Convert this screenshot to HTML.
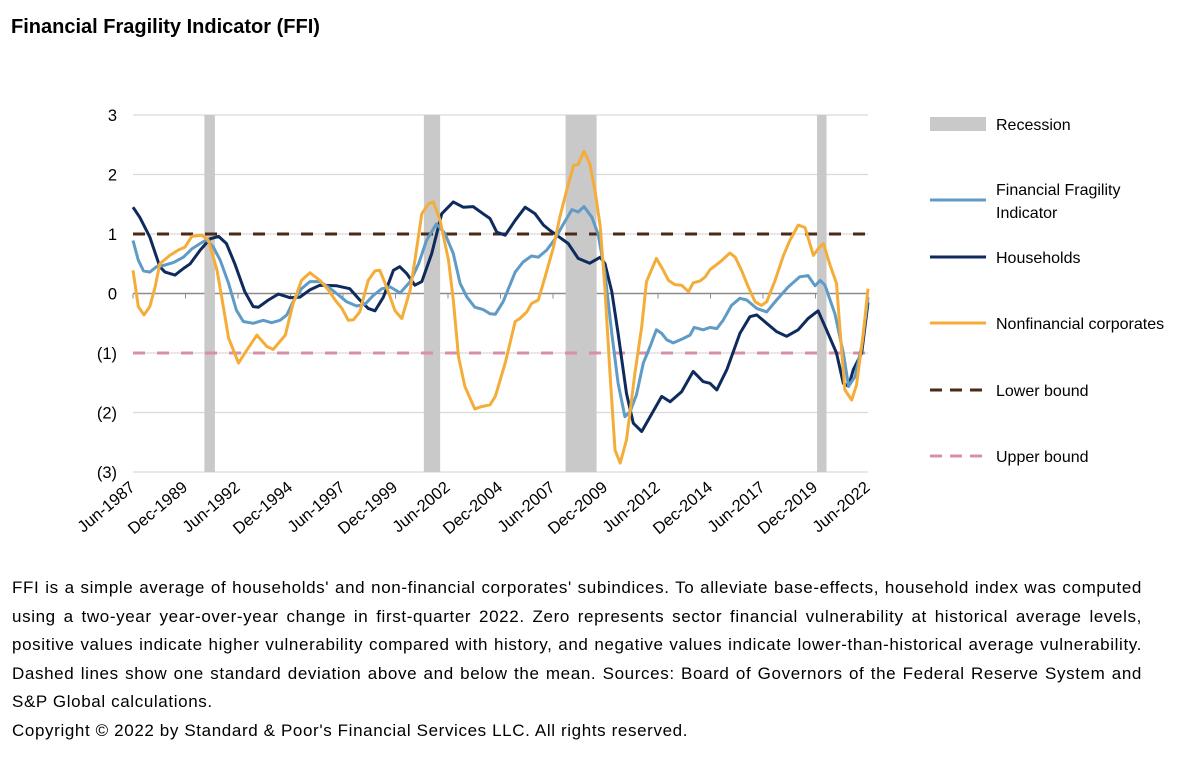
<!DOCTYPE html>
<html><head><meta charset="utf-8"><style>
body{margin:0;background:#fff;width:1202px;height:760px;overflow:hidden;font-family:"Liberation Sans",Arial,sans-serif;color:#000}
#title{position:absolute;left:11px;top:16px;font-size:20px;font-weight:bold}
#note{position:absolute;left:12px;top:574px;width:1130px;font-size:17px;line-height:28.5px;text-align:justify;letter-spacing:0.62px}
#copy{position:absolute;left:12px;top:717px;font-size:17px;line-height:28.5px;letter-spacing:0.62px}
svg{position:absolute;left:0;top:0}
</style></head><body>
<div id="title">Financial Fragility Indicator (FFI)</div>
<svg id="chart" width="1202" height="560"></svg>
<div id="note">FFI is a simple average of households' and non-financial corporates' subindices. To alleviate base-effects, household index was computed using a two-year year-over-year change in first-quarter 2022. Zero represents sector financial vulnerability at historical average levels, positive values indicate higher vulnerability compared with history, and negative values indicate lower-than-historical average vulnerability. Dashed lines show one standard deviation above and below the mean. Sources: Board of Governors of the Federal Reserve System and S&amp;P Global calculations.</div>
<div id="copy">Copyright © 2022 by Standard &amp; Poor's Financial Services LLC. All rights reserved.</div>
<script>
// quarters since Jun-1987
const hhQ=[0,1.3,3.2,5.1,6.1,8.0,9.6,10.9,12.8,14.7,16.3,17.8,19.4,21.3,22.9,23.9,25.8,27.7,29.9,31.8,33.7,35.6,38.8,41.3,43.2,44.8,46.1,47.7,49.6,50.8,52.1,53.7,55,56.9,58.8,61,62.9,64.8,66.7,68,69.3,70.9,72.8,74.7,76.6,78.2,79.4,80.7,82.9,84.8,87,89,89.9,91.2,92.4,94,95.3,96.9,98.5,100.7,102.3,104.5,106.7,108.6,109.9,111.2,113.1,115.6,117.5,118.8,120.7,122.6,124.5,126.7,128.6,130.5,132.1,134,135.3,136.3,137.2,138.8,140];
const hhV=[1.45,1.28,0.95,0.45,0.36,0.31,0.42,0.5,0.73,0.92,0.96,0.84,0.5,0.03,-0.22,-0.23,-0.11,-0.01,-0.07,-0.06,0.06,0.14,0.13,0.08,-0.11,-0.25,-0.29,-0.06,0.39,0.45,0.34,0.14,0.2,0.67,1.34,1.54,1.45,1.46,1.34,1.26,1.03,0.98,1.23,1.45,1.34,1.15,1.06,0.98,0.84,0.59,0.51,0.61,0.5,0.03,-0.67,-1.68,-2.18,-2.32,-2.07,-1.73,-1.82,-1.65,-1.31,-1.48,-1.51,-1.62,-1.28,-0.67,-0.39,-0.36,-0.5,-0.64,-0.72,-0.61,-0.42,-0.29,-0.61,-1.0,-1.51,-1.56,-1.28,-1.0,-0.15];
const ffiQ=[0,1,2,3.2,4.5,5.8,7.7,9.6,11.2,12.8,14,15.3,16.6,18.2,19.7,21,22.9,24.8,26.4,28,29.3,30.5,32.1,33.7,35.6,37.2,38.8,40.7,42.6,44.2,45.8,47.4,49,50.9,52.8,54.4,55.9,57.8,59.4,61,62.3,63.6,65.1,66.7,68,69,70.5,72.8,74.3,75.9,77.2,78.8,80.4,82,83.6,84.8,85.9,87.4,88.6,89.9,91.2,92.4,93.7,94.7,95.9,97.2,98.5,99.7,100.7,101.7,102.9,104.5,106.1,106.9,108.6,109.9,111.2,112.4,114,115.6,116.9,118.8,120.7,122.6,124.8,127,128.6,129.9,130.9,131.8,133.7,135.3,136.3,137.5,138.8,140];
const ffiV=[0.89,0.56,0.38,0.36,0.45,0.47,0.52,0.61,0.75,0.84,0.9,0.78,0.56,0.17,-0.28,-0.47,-0.5,-0.45,-0.49,-0.45,-0.36,-0.14,0.08,0.2,0.2,0.11,0,-0.14,-0.21,-0.18,-0.03,0.08,0.11,0.01,0.2,0.5,0.89,1.17,1.01,0.67,0.17,-0.06,-0.23,-0.27,-0.34,-0.35,-0.14,0.36,0.53,0.63,0.61,0.73,0.92,1.17,1.41,1.37,1.46,1.28,1.0,0.34,-0.67,-1.51,-2.07,-1.98,-1.7,-1.17,-0.89,-0.61,-0.67,-0.78,-0.83,-0.77,-0.7,-0.57,-0.61,-0.57,-0.59,-0.45,-0.2,-0.08,-0.11,-0.25,-0.31,-0.11,0.11,0.28,0.3,0.13,0.22,0.14,-0.34,-1.0,-1.56,-1.4,-0.89,-0.06];
const nfQ=[0,1,2.1,3.2,4.2,5.1,7,8.6,9.9,11.2,13.1,14.4,16,16.9,18.2,20.1,21.7,23.6,25.5,26.7,29,30.5,32.1,33.7,35.6,37.2,38.5,39.8,41,42,43.2,44.8,46.1,47,48.3,49.9,51.2,52.8,53.7,55,56.3,57.2,58.5,60.1,61,62,63.2,65.1,66.4,68,69,70.9,72.8,73.7,75,75.9,77.2,78.5,80.1,81.3,82.6,83.9,84.8,85.9,87,88,89,89.9,90.9,91.8,92.8,94,95.6,96.9,97.8,99.7,101,102,103.2,104.5,105.8,106.7,108,109,109.9,111.8,113.7,114.7,115.9,117.2,118.5,119.7,120.7,122.3,123.9,125.1,126.7,128,129.6,130.5,131.5,132.8,134,135,135.6,136.9,137.8,139.1,140];
const nfV=[0.39,-0.22,-0.36,-0.22,0.11,0.5,0.64,0.73,0.78,0.96,0.98,0.89,0.39,-0.06,-0.75,-1.17,-0.95,-0.7,-0.89,-0.94,-0.7,-0.17,0.22,0.35,0.22,0.06,-0.11,-0.25,-0.45,-0.44,-0.31,0.22,0.38,0.39,0.11,-0.29,-0.42,0.06,0.56,1.34,1.51,1.54,1.23,0.56,-0.11,-1.06,-1.56,-1.94,-1.9,-1.87,-1.73,-1.17,-0.47,-0.42,-0.31,-0.17,-0.11,0.28,0.78,1.28,1.73,2.15,2.17,2.39,2.18,1.73,1.12,0.06,-1.4,-2.63,-2.85,-2.46,-1.34,-0.56,0.2,0.59,0.39,0.22,0.15,0.14,0.03,0.18,0.21,0.28,0.4,0.53,0.68,0.61,0.39,0.11,-0.14,-0.2,-0.14,0.22,0.64,0.89,1.15,1.11,0.64,0.75,0.84,0.47,0.17,-1.0,-1.62,-1.79,-1.54,-0.67,0.08];
const recStart=[13.6,55.4,82.4,130.3];
const recEnd=[15.6,58.5,88.3,132.1];
const tickQ=[0,10,20,30,40,50,60,70,80,90,100,110,120,130,140];
const tickLabels=["Jun-1987","Dec-1989","Jun-1992","Dec-1994","Jun-1997","Dec-1999","Jun-2002","Dec-2004","Jun-2007","Dec-2009","Jun-2012","Dec-2014","Jun-2017","Dec-2019","Jun-2022"];
const yTicks=[3,2,1,0,-1,-2,-3];
const yLabels=["3","2","1","0","(1)","(2)","(3)"];
const lowerBound=1, upperBound=-1;

const X0=133,X1=868,Y3=115,Ym3=472;
const sx=q=>X0+(X1-X0)*q/140;
const sy=v=>Y3+(Ym3-Y3)*(3-v)/6;
const svg=document.getElementById('chart');
const NS='http://www.w3.org/2000/svg';
function mk(tag,attrs,parent){const e=document.createElementNS(NS,tag);for(const k in attrs)e.setAttribute(k,attrs[k]);(parent||svg).appendChild(e);return e;}

yTicks.forEach((v,i)=>{
  const g=mk('line',{x1:X0,x2:X1,y1:sy(v),y2:sy(v),stroke:v===0?'#8c8c8c':'#d9d9d9','stroke-width':v===0?1.5:1.3});
  
  
  const t=mk('text',{x:117,y:sy(v)+6,'text-anchor':'end','font-size':16.5});
  t.textContent=yLabels[i];
  
  
});
recStart.forEach((s,i)=>{
  const r=mk('rect',{x:sx(s),y:Y3,width:sx(recEnd[i])-sx(s),height:Ym3-Y3,fill:'#c9c9c9'});
  
  
});
tickQ.forEach((q,i)=>{
  const l=mk('line',{x1:sx(q),x2:sx(q),y1:sy(0),y2:sy(0)+5,stroke:'#8c8c8c','stroke-width':1});
  
  
  const x=sx(q)+3,y=489;
  const t=mk('text',{x:x,y:y,'text-anchor':'end','font-size':16.5,transform:`rotate(-40 ${x} ${y})`});
  t.textContent=tickLabels[i];
  
  
});
const lb=mk('line',{x1:X0,x2:X1,y1:sy(lowerBound),y2:sy(lowerBound),stroke:'#4b2a17','stroke-width':3,'stroke-dasharray':'12 12'});


const ub=mk('line',{x1:X0,x2:X1,y1:sy(upperBound),y2:sy(upperBound),stroke:'#d98fa8','stroke-width':3,'stroke-dasharray':'12 12'});


function series(qs,vs,color,name){
  const p=mk('polyline',{points:qs.map((q,i)=>sx(q).toFixed(1)+','+sy(vs[i]).toFixed(1)).join(' '),fill:'none',stroke:color,'stroke-width':3,'stroke-linejoin':'round'});
  
  
}
series(hhQ,hhV,'#0f2a5c','households-line');
series(ffiQ,ffiV,'#5f9bc6','ffi-line');
series(nfQ,nfV,'#f5ad3a','nonfinancial-corporates-line');

// legend
const lg=mk('g',{});


mk('rect',{x:930,y:117,width:56,height:14,fill:'#c9c9c9'},lg);
const legItems=[[200,'#5f9bc6',''],[257,'#0f2a5c',''],[323,'#f5ad3a',''],[390,'#4b2a17','12 8'],[456,'#d98fa8','12 8']];
legItems.forEach(it=>{mk('line',{x1:930,x2:986,y1:it[0],y2:it[0],stroke:it[1],'stroke-width':3,'stroke-dasharray':it[2]||'none'},lg);});
const legText=[[130,'Recession'],[195,'Financial Fragility'],[218,'Indicator'],[263,'Households'],[329,'Nonfinancial corporates'],[396,'Lower bound'],[462,'Upper bound']];
legText.forEach(t=>{const e=mk('text',{x:996,y:t[0],'font-size':16},lg);e.textContent=t[1];
  
  });
</script>
</body></html>
